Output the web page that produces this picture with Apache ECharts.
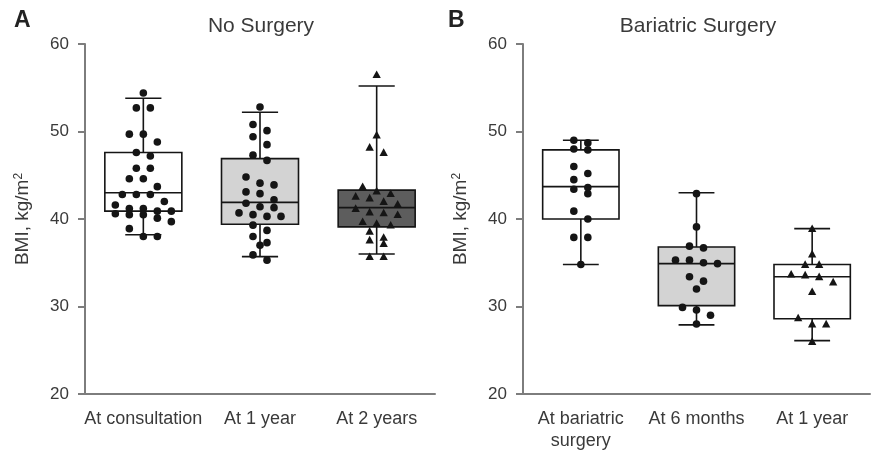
<!DOCTYPE html>
<html>
<head>
<meta charset="utf-8">
<script src="https://cdn.jsdelivr.net/npm/echarts@6/dist/echarts.min.js"></script>
<style>
  html, body { margin: 0; padding: 0; background: #fff; }
  #chart { width: 871px; height: 450px; }
</style>
</head>
<body>
<div id="chart"></div>
<script>
// ---- Data -------------------------------------------------------------
const noSurgeryCategories = ['At consultation', 'At 1 year', 'At 2 years'];
const surgeryCategories = ['At bariatric\nsurgery', 'At 6 months', 'At 1 year'];
const yTicks = [20, 30, 40, 50, 60];

// Box statistics: [lower whisker, Q1, median, Q3, upper whisker]
const noSurgeryBoxes = [
  [38.2, 40.9, 43.0, 47.6, 53.8],
  [35.7, 39.4, 41.9, 46.9, 52.2],
  [36.0, 39.1, 41.3, 43.3, 55.2]
];
const surgeryBoxes = [
  [34.8, 40.0, 43.7, 47.9, 49.0],
  [27.9, 30.1, 34.9, 36.8, 43.0],
  [26.1, 28.6, 33.4, 34.8, 38.9]
];

// Individual BMI values (kg/m2)
const consultationBMI = [54.4, 52.7, 52.7, 49.7, 49.7, 48.8, 47.6, 47.2, 45.8, 45.8, 44.6, 44.6, 43.7, 42.8, 42.8, 42.8,
  42.0, 41.6, 41.2, 41.2, 40.9, 40.9, 40.6, 40.5, 40.5, 40.1, 39.7, 38.9, 38.0, 38.0];
const noSurgery1yBMI = [52.8, 50.8, 50.1, 49.4, 48.5, 47.3, 46.7, 44.8, 44.1, 43.9, 43.1, 42.9, 42.2, 41.8, 41.4, 41.3,
  40.7, 40.5, 40.3, 40.3, 39.3, 38.7, 38.0, 37.3, 37.0, 35.9, 35.3];
const noSurgery2yBMI = [56.5, 49.6, 48.2, 47.6, 43.7, 43.2, 42.9, 42.6, 42.4, 42.0, 41.7, 41.2, 40.8, 40.7, 40.5, 39.7,
  39.5, 39.3, 38.6, 37.9, 37.6, 37.2, 35.7, 35.7];
const atSurgeryBMI = [49.0, 48.7, 48.0, 47.9, 46.0, 45.2, 44.5, 43.6, 43.4, 42.9, 40.9, 40.0, 37.9, 37.9, 34.8];
const surgery6mBMI = [42.9, 39.1, 36.9, 36.7, 35.3, 35.3, 35.0, 34.9, 33.4, 32.9, 32.0, 29.9, 29.6, 29.0, 28.0];
const surgery1yBMI = [38.9, 36.0, 34.8, 34.8, 33.7, 33.6, 33.4, 32.8, 31.7, 28.7, 28.0, 28.0, 26.0];

const noSurgeryPoints = [consultationBMI, noSurgery1yBMI, noSurgery2yBMI];
const surgeryPoints = [atSurgeryBMI, surgery6mBMI, surgery1yBMI];

// ---- Styling ----------------------------------------------------------
const noSurgeryFills = ['#ffffff', '#d3d3d3', '#5d5d5d'];
const surgeryFills = ['#ffffff', '#d3d3d3', '#ffffff'];
const noSurgeryShapes = ['circle', 'circle', 'triangle'];
const surgeryShapes = ['circle', 'circle', 'triangle'];

const AXIS_COLOR = '#7d7d7d';
const TEXT_COLOR = '#3a3a3a';
const INK = '#151515';
const FONT = 'Liberation Sans, Arial, sans-serif';
const DOT_R = 3.8;      // marker radius, px
const ROW_H = 8;        // values closer than this (px) share a swarm row
const STEP = 14;        // horizontal spacing inside a row, px

// ---- Renderers --------------------------------------------------------
function boxRenderer(fills) {
  return function (params, api) {
    const c = api.value(0);
    const lo = api.coord([c, api.value(1)]);
    const q1 = api.coord([c, api.value(2)]);
    const med = api.coord([c, api.value(3)]);
    const q3 = api.coord([c, api.value(4)]);
    const hi = api.coord([c, api.value(5)]);
    const band = api.size([1, 0])[0];
    const bw = band * 0.66;
    const cw = band * 0.31;
    const x = lo[0];
    const ln = { stroke: INK, lineWidth: 1.6 };
    return {
      type: 'group',
      children: [
        { type: 'line', shape: { x1: x, y1: hi[1], x2: x, y2: lo[1] }, style: ln },
        { type: 'line', shape: { x1: x - cw / 2, y1: hi[1], x2: x + cw / 2, y2: hi[1] }, style: ln },
        { type: 'line', shape: { x1: x - cw / 2, y1: lo[1], x2: x + cw / 2, y2: lo[1] }, style: ln },
        { type: 'rect', shape: { x: x - bw / 2, y: q3[1], width: bw, height: q1[1] - q3[1] },
          style: { fill: fills[c], stroke: INK, lineWidth: 1.6 } },
        { type: 'line', shape: { x1: x - bw / 2, y1: med[1], x2: x + bw / 2, y2: med[1] }, style: ln }
      ]
    };
  };
}

// Swarm layout: points within ROW_H px vertically form a row, spread evenly around the centre.
function swarmOffsets(api, cat, values) {
  const ys = values.map(v => api.coord([cat, v])[1]);
  const order = ys.map((y, i) => i).sort((a, b) => ys[a] - ys[b]);
  const rows = [];
  let cur = null;
  order.forEach(i => {
    if (!cur || ys[i] - cur.y0 >= ROW_H) { cur = { y0: ys[i], idx: [] }; rows.push(cur); }
    cur.idx.push(i);
  });
  const off = [];
  rows.forEach(r => r.idx.forEach((i, k) => { off[i] = (k - (r.idx.length - 1) / 2) * STEP; }));
  return off;
}

function pointRenderer(groups, shapes) {
  return function (params, api) {
    const ctx = params.context;
    if (!ctx.offsets) {
      ctx.offsets = groups.map((vals, c) => swarmOffsets(api, c, vals));
    }
    const c = api.value(0);
    const k = api.value(2);
    const p = api.coord([c, api.value(1)]);
    const x = p[0] + ctx.offsets[c][k];
    const y = p[1];
    if (shapes[c] === 'triangle') {
      const h = DOT_R * 2;
      return { type: 'polygon', shape: { points: [[x, y - h * 0.55], [x + h * 0.55, y + h * 0.45], [x - h * 0.55, y + h * 0.45]] },
        style: { fill: INK } };
    }
    return { type: 'circle', shape: { cx: x, cy: y, r: DOT_R }, style: { fill: INK } };
  };
}

function boxData(boxes) {
  return boxes.map((b, i) => [i].concat(b));
}
function pointData(groups) {
  const out = [];
  groups.forEach((vals, c) => vals.forEach((v, k) => out.push([c, v, k])));
  return out;
}

function xAxisFor(gridIndex, cats) {
  return {
    type: 'category', gridIndex: gridIndex, data: cats,
    axisLine: { lineStyle: { color: AXIS_COLOR, width: 2 } },
    axisTick: { alignWithLabel: true, length: 7, lineStyle: { color: AXIS_COLOR, width: 2 } },
    axisLabel: { color: TEXT_COLOR, fontSize: 18, fontFamily: FONT, margin: 14, lineHeight: 22, interval: 0 }
  };
}
function yAxisFor(gridIndex) {
  return {
    type: 'value', gridIndex: gridIndex,
    min: yTicks[0], max: yTicks[yTicks.length - 1], interval: yTicks[1] - yTicks[0],
    name: 'BMI, kg/m{sup|2}', nameLocation: 'middle', nameGap: 53,
    nameTextStyle: { color: TEXT_COLOR, fontSize: 19, fontFamily: FONT,
      rich: { sup: { fontSize: 12, fontFamily: FONT, color: TEXT_COLOR, verticalAlign: 'top', lineHeight: 12 } } },
    splitLine: { show: false },
    axisLine: { show: true, lineStyle: { color: AXIS_COLOR, width: 2 } },
    axisTick: { show: true, length: 7, lineStyle: { color: AXIS_COLOR, width: 2 } },
    axisLabel: { color: TEXT_COLOR, fontSize: 17, fontFamily: FONT, margin: 16 }
  };
}

const chart = echarts.init(document.getElementById('chart'), null, { renderer: 'canvas' });
chart.setOption({
  backgroundColor: '#fff',
  animation: false,
  title: [
    { text: 'No Surgery', left: 256, top: 11, textAlign: 'center',
      textStyle: { fontSize: 21, fontWeight: 'normal', color: TEXT_COLOR, fontFamily: FONT } },
    { text: 'Bariatric Surgery', left: 693, top: 11, textAlign: 'center',
      textStyle: { fontSize: 21, fontWeight: 'normal', color: TEXT_COLOR, fontFamily: FONT } }
  ],
  graphic: [
    { type: 'text', left: 14, top: 9, style: { text: 'A', font: 'bold 23px ' + FONT, fill: '#222' } },
    { type: 'text', left: 448, top: 9, style: { text: 'B', font: 'bold 23px ' + FONT, fill: '#222' } }
  ],
  grid: [
    { left: 85, right: 436, top: 44, bottom: 56, containLabel: false, outerBoundsMode: 'none' },
    { left: 523, right: 1, top: 44, bottom: 56, containLabel: false, outerBoundsMode: 'none' }
  ],
  xAxis: [xAxisFor(0, noSurgeryCategories), xAxisFor(1, surgeryCategories)],
  yAxis: [yAxisFor(0), yAxisFor(1)],
  series: [
    { type: 'custom', xAxisIndex: 0, yAxisIndex: 0, renderItem: boxRenderer(noSurgeryFills),
      data: boxData(noSurgeryBoxes), encode: { x: 0, y: [1, 2, 3, 4, 5] }, z: 2 },
    { type: 'custom', xAxisIndex: 0, yAxisIndex: 0, renderItem: pointRenderer(noSurgeryPoints, noSurgeryShapes),
      data: pointData(noSurgeryPoints), encode: { x: 0, y: 1 }, z: 3 },
    { type: 'custom', xAxisIndex: 1, yAxisIndex: 1, renderItem: boxRenderer(surgeryFills),
      data: boxData(surgeryBoxes), encode: { x: 0, y: [1, 2, 3, 4, 5] }, z: 2 },
    { type: 'custom', xAxisIndex: 1, yAxisIndex: 1, renderItem: pointRenderer(surgeryPoints, surgeryShapes),
      data: pointData(surgeryPoints), encode: { x: 0, y: 1 }, z: 3 }
  ]
});
</script>
</body>
</html>
